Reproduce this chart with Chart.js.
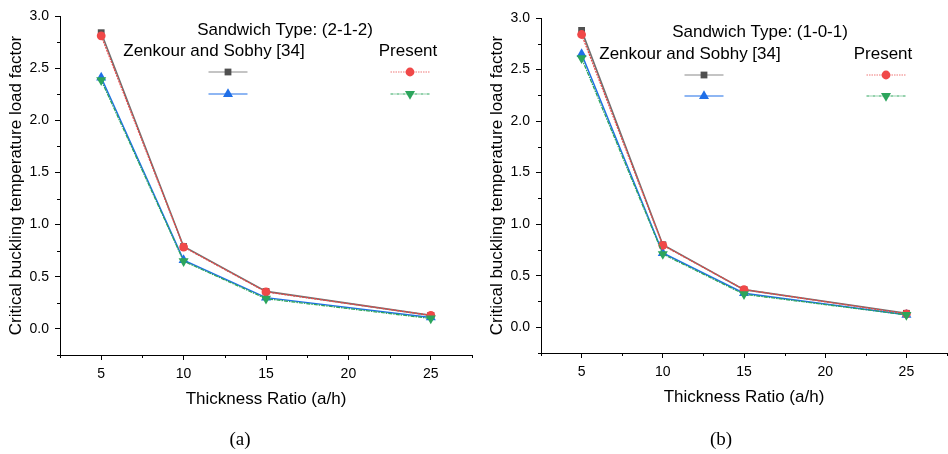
<!DOCTYPE html>
<html><head><meta charset="utf-8">
<script src="https://cdn.jsdelivr.net/npm/chart.js@4.4.0/dist/chart.umd.min.js"></script>
<style>
html,body{margin:0;padding:0;background:#fff}
body{width:948px;height:454px;overflow:hidden;position:relative}
.panel{position:absolute;top:0;width:474px;height:454px}
.cap{position:absolute;top:427px;width:100px;text-align:center;font-family:"Liberation Serif","Times New Roman",serif;font-size:19px;color:#000;line-height:24px}
</style></head>
<body>
<div class="panel" style="left:0"><canvas id="ca" width="474" height="454"></canvas><div class="cap" style="left:190px">(a)</div></div>
<div class="panel" style="left:474px"><canvas id="cb" width="474" height="454"></canvas><div class="cap" style="left:197px">(b)</div></div>
<script>
// ---- data ----
const thicknessRatio = [5, 10, 15, 25];
const xTicks = [5, 10, 15, 20, 25];
const yTicks = [0, 0.5, 1.0, 1.5, 2.0, 2.5, 3.0];

// panel (a) Sandwich Type (2-1-2)
const zenkourA1 = [2.84, 0.79, 0.36, 0.13];
const zenkourA2 = [2.41, 0.66, 0.30, 0.11];
const presentA1 = [2.81, 0.785, 0.355, 0.13];
const presentA2 = [2.385, 0.65, 0.29, 0.10];

// panel (b) Sandwich Type (1-0-1)
const zenkourB1 = [2.88, 0.80, 0.365, 0.135];
const zenkourB2 = [2.65, 0.72, 0.33, 0.12];
const presentB1 = [2.84, 0.795, 0.365, 0.13];
const presentB2 = [2.61, 0.71, 0.32, 0.12];

const FONT = '"Liberation Sans", Arial, sans-serif';

function pts(ys){ return thicknessRatio.map((x,i)=>({x:x,y:ys[i]})); }

function makeDatasets(z1,z2,p1,p2){
  return [
    {label:'Zenkour and Sobhy [34] 1', data:pts(z1), borderColor:'#707070', borderWidth:1.6,
     pointStyle:'rect', pointRadius:4.8, pointBackgroundColor:'#505050', pointBorderWidth:0, order:4},
    {label:'Zenkour and Sobhy [34] 2', data:pts(z2), borderColor:'#1f6fe8', borderWidth:1.5,
     pointStyle:'triangle', pointRadius:5.8, pointBackgroundColor:'#1f6fe8', pointBorderWidth:0, order:3},
    {label:'Present 1', data:pts(p1), borderColor:'#e84848', borderWidth:1.3, borderDash:[2,1],
     pointStyle:'circle', pointRadius:4.4, pointBackgroundColor:'#f04848', pointBorderWidth:0, order:2},
    {label:'Present 2', data:pts(p2), borderColor:'#2ca55c', borderWidth:1.3, borderDash:[4,1,1.5,1],
     pointStyle:'triangle', pointRotation:180, pointRadius:5.8, pointBackgroundColor:'#2ca55c', pointBorderWidth:0, order:1}
  ];
}

const legendPlugin = {
  id:'panelLegend',
  afterDatasetsDraw(chart, args, o){
    const ctx = chart.ctx, ca = chart.chartArea;
    ctx.save();
    ctx.fillStyle = '#000';
    ctx.font = '17px ' + FONT;
    ctx.textAlign = 'center'; ctx.textBaseline = 'middle';
    ctx.fillText(o.title, ca.left + o.titleDX, ca.top + o.titleDY);
    ctx.fillText(o.leftHead, ca.left + o.col1DX, ca.top + o.headDY);
    ctx.fillText(o.rightHead, ca.left + o.col2DX, ca.top + o.headDY);
    o.rows.forEach(r => {
      const ds = chart.data.datasets[r.ds];
      const cx = ca.left + r.dx, cy = ca.top + r.dy;
      ctx.beginPath();
      ctx.setLineDash(r.dash || []);
      ctx.strokeStyle = r.color; ctx.lineWidth = 1.2;
      ctx.moveTo(cx - o.half, cy); ctx.lineTo(cx + o.half, cy); ctx.stroke();
      ctx.setLineDash([]);
      ctx.fillStyle = ds.pointBackgroundColor;
      Chart.helpers.drawPoint(ctx, {pointStyle: ds.pointStyle, radius: ds.pointRadius, rotation: ds.pointRotation || 0, borderWidth: 0}, cx, cy);
    });
    ctx.restore();
  }
};

const minorTickPlugin = {
  id:'minorTicks',
  afterDraw(chart){
    const ctx = chart.ctx, xs = chart.scales.x, ys = chart.scales.y, ca = chart.chartArea;
    ctx.save();
    ctx.strokeStyle = '#000'; ctx.lineWidth = 1;
    ctx.beginPath();
    [2.5, 7.5, 12.5, 17.5, 22.5, 27.5].forEach(v => {
      const px = Math.round(xs.getPixelForValue(v)) + 0.5;
      ctx.moveTo(px, ca.bottom); ctx.lineTo(px, ca.bottom + 3);
    });
    [-0.25, 0.25, 0.75, 1.25, 1.75, 2.25, 2.75].forEach(v => {
      const py = Math.round(ys.getPixelForValue(v)) + 0.5;
      ctx.moveTo(ca.left, py); ctx.lineTo(ca.left - 3, py);
    });
    ctx.stroke();
    ctx.restore();
  }
};

const legendRows = (dx1, dx2, dy1, dy2) => [
  {ds:0, dx:dx1, dy:dy1, color:'#8a8a8a'},
  {ds:1, dx:dx1, dy:dy2, color:'#1f6fe8'},
  {ds:2, dx:dx2, dy:dy1, color:'#f07878', dash:[1.5,1]},
  {ds:3, dx:dx2, dy:dy2, color:'#2ca55c', dash:[3,1,1,1]}
];

function makeChart(id, datasets, cfg){
  return new Chart(document.getElementById(id), {
    type:'line',
    data:{datasets:datasets},
    plugins:[legendPlugin, minorTickPlugin],
    options:{
      responsive:false, animation:false, devicePixelRatio:1,
      layout:{autoPadding:false, padding:{left:0, top:cfg.top, right:cfg.right, bottom:cfg.bottom}},
      plugins:{legend:{display:false}, tooltip:{enabled:false}, panelLegend:cfg.legend},
      scales:{
        x:{type:'linear', min:2.5, max:27.5,
           afterBuildTicks(s){ s.ticks = xTicks.map(v=>({value:v})); },
           afterFit(s){ s.height = 55; },
           grid:{drawOnChartArea:false, drawTicks:true, tickLength:5, color:'#000'},
           border:{display:true, color:'#000', width:1},
           ticks:{color:'#000', font:{family:FONT, size:14}, padding:6, maxRotation:0,
                  callback:(v)=>String(v)},
           title:{display:true, text:'Thickness Ratio (a/h)', color:'#000', font:{family:FONT, size:17}, padding:{top:0,bottom:0}}
        },
        y:{type:'linear', min:-0.25, max:3.0,
           afterBuildTicks(s){ s.ticks = yTicks.map(v=>({value:v})); },
           afterFit(s){ s.width = cfg.yWidth; },
           grid:{drawOnChartArea:false, drawTicks:true, tickLength:5, color:'#000'},
           border:{display:true, color:'#000', width:1},
           ticks:{color:'#000', font:{family:FONT, size:14}, padding:6,
                  callback:(v)=>Number(v).toFixed(1)},
           title:{display:true, text:'Critical buckling temperature load factor', color:'#000', font:{family:FONT, size:17}, padding:{top:cfg.yTitlePad, bottom:0}}
        }
      }
    }
  });
}

makeChart('ca', makeDatasets(zenkourA1, zenkourA2, presentA1, presentA2), {
  top:16, right:2, bottom:44, yWidth:60, yTitlePad:6.5,
  legend:{title:'Sandwich Type: (2-1-2)', leftHead:'Zenkour and Sobhy [34]', rightHead:'Present',
    titleDX:225, titleDY:14, col1DX:154, col2DX:348, headDY:35, half:19.5,
    rows:legendRows(168, 350, 56, 78)}
});

makeChart('cb', makeDatasets(zenkourB1, zenkourB2, presentB1, presentB2), {
  top:18, right:1, bottom:46, yWidth:67, yTitlePad:13,
  legend:{title:'Sandwich Type: (1-0-1)', leftHead:'Zenkour and Sobhy [34]', rightHead:'Present',
    titleDX:219, titleDY:14, col1DX:149, col2DX:342, headDY:36, half:19.5,
    rows:legendRows(163, 345, 57, 78)}
});
</script>
</body></html>
